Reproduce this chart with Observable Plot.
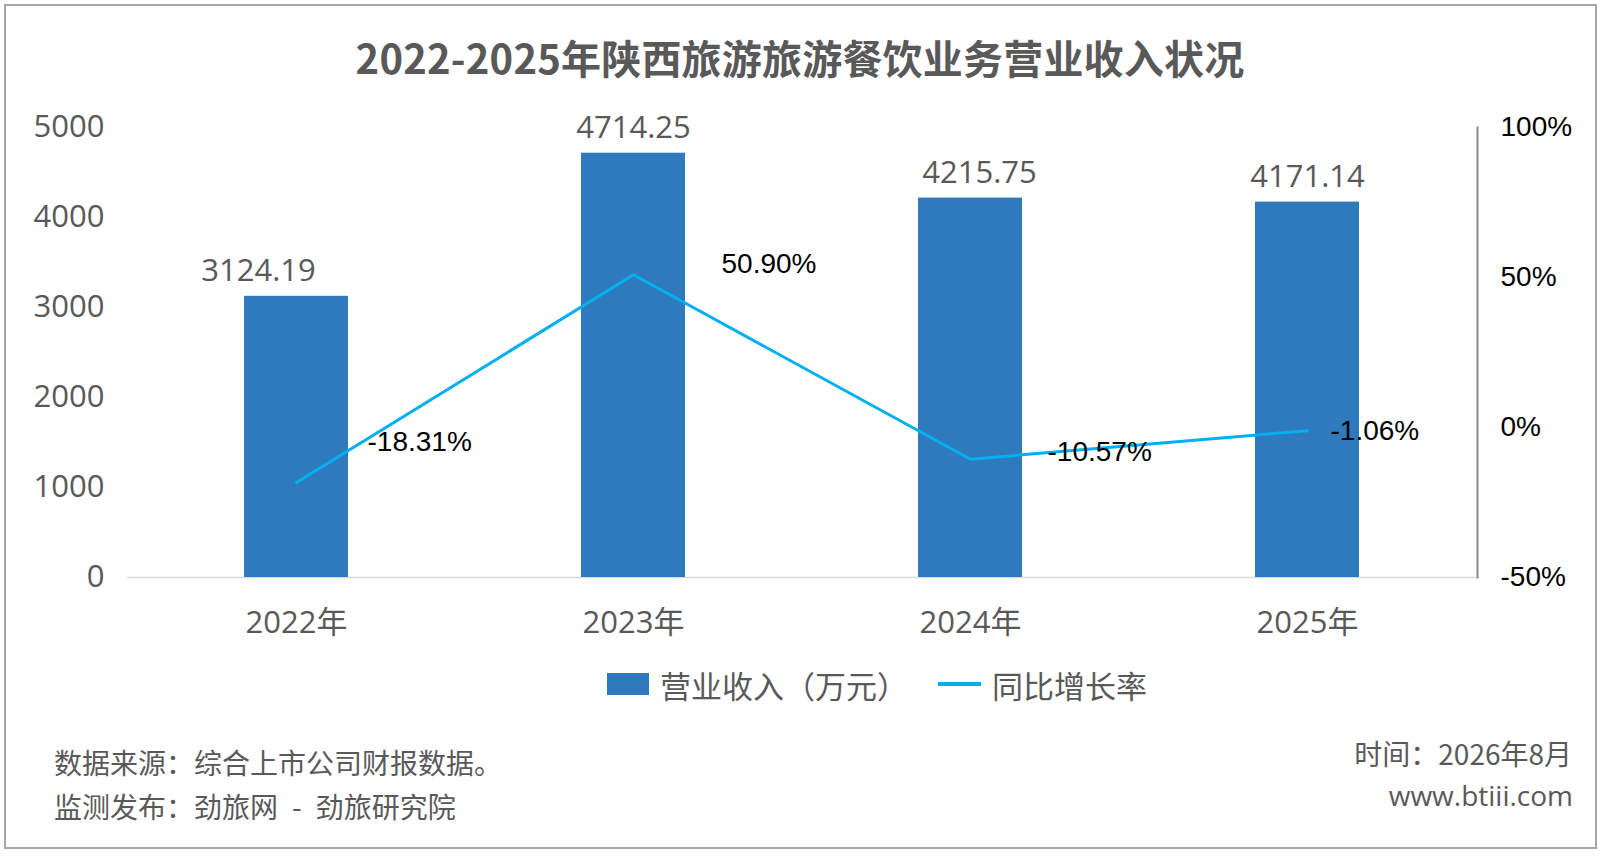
<!DOCTYPE html>
<html>
<head>
<meta charset="utf-8">
<script src="https://cdn.jsdelivr.net/npm/d3@7"></script>
<script src="https://cdn.jsdelivr.net/npm/@observablehq/plot@0.6"></script>
<style>
  html, body { margin: 0; padding: 0; background: #fff; }
  #page { position: relative; width: 1600px; height: 856px; overflow: hidden; background: #fff; }
  #border { position: absolute; left: 4px; top: 4px; width: 1589px; height: 841px; border: 2px solid #a6a6a6; }
  .t { position: absolute; white-space: nowrap; color: #595959; font-family: "Open Sans", "Noto Sans CJK SC", sans-serif; }
  #title { left: 0; width: 1600px; text-align: center; top: 30px; font-size: 40px; font-weight: bold; line-height: 54px; font-family: "Noto Sans CJK SC", sans-serif; letter-spacing: 0.2px; }
  #chart { position: absolute; left: 0; top: 100px; }
  #legend { position: absolute; left: 607px; top: 664px; height: 40px; display: flex; align-items: center; font-size: 31px; color: #595959; font-family: "Noto Sans CJK SC", sans-serif; }
  .sw-bar { width: 42px; height: 22px; background: #2E7ABD; margin-right: 11px; }
  .sw-line { width: 43px; height: 4px; background: #00B0F0; margin-left: 30px; margin-right: 11px; }
  .foot { font-size: 28px; line-height: 34px; font-family: "Noto Sans CJK SC", sans-serif; }
</style>
</head>
<body>
<div id="page">
  <div id="border"></div>
  <div id="title" class="t"></div>
  <div id="chart"></div>
  <div id="legend"></div>
  <div id="f1" class="t foot" style="left:54px; top:745px;"></div>
  <div id="f2" class="t foot" style="left:54px; top:789px;"></div>
  <div id="f3" class="t foot" style="right:28px; top:736px;"></div>
  <div id="f4" class="t foot" style="right:27px; top:778px; font-family:'Open Sans','Noto Sans CJK SC',sans-serif;"></div>
</div>
<script>
// ---- data ----
const years = ["2022年", "2023年", "2024年", "2025年"];
const revenue = [3124.19, 4714.25, 4215.75, 4171.14];     // 营业收入（万元）
const growth = [-18.31, 50.90, -10.57, -1.06];            // 同比增长率 (%)
const leftTicks = [0, 1000, 2000, 3000, 4000, 5000];
const rightTicks = [-50, 0, 50, 100];
const titleText = "2022-2025年陕西旅游旅游餐饮业务营业收入状况";
const seriesNames = ["营业收入（万元）", "同比增长率"];
const footLeft = ["数据来源：综合上市公司财报数据。", "监测发布：劲旅网 - 劲旅研究院"];
const footRight = ["时间：2026年8月", "www.btiii.com"];

// ---- layout (not data) ----
const barLabelDx = [-38, 0, 9, 0];
const lineLabelOffset = [[71, -40], [88, -11], [77, -7], [23, 0]];

const rows = years.map((y, i) => ({year: y, revenue: revenue[i], growth: growth[i]}));

// secondary axis mapping: -50%..100% onto 0..5000
const Y_MAX = 5000, P_MIN = -50, P_MAX = 100;
const toY = p => (p - P_MIN) / (P_MAX - P_MIN) * Y_MAX;
const fromY = v => v / Y_MAX * (P_MAX - P_MIN) + P_MIN;

const grayFont = '"Open Sans", "Noto Sans CJK SC", sans-serif';
const blackFont = '"Liberation Sans", "Noto Sans CJK SC", sans-serif';

const marks = [
  Plot.ruleY([0], {stroke: "#d9d9d9", strokeWidth: 1.5}),
  Plot.barY(rows, {x: "year", y: "revenue", fill: "#2E7ABD"}),
  Plot.frame({anchor: "right", stroke: "#8c8c8c", strokeWidth: 2}),
  Plot.axisY({anchor: "left", ticks: leftTicks, tickSize: 0, tickPadding: 23, fontSize: 31,
              color: "#595959", fill: "#595959", fontFamily: grayFont, label: null, tickFormat: d => String(d)}),
  Plot.axisY({anchor: "right", ticks: rightTicks.map(toY), tickSize: 0, tickPadding: 23, fontSize: 28,
              color: "#000", fill: "#000", fontFamily: blackFont, label: null,
              tickFormat: v => Math.round(fromY(v)) + "%"}),
  Plot.axisX({tickSize: 0, tickPadding: 33, fontSize: 31, color: "#595959", fill: "#595959",
              fontFamily: grayFont, label: null}),
  Plot.lineY(rows, {x: "year", y: d => toY(d.growth), stroke: "#00B0F0", strokeWidth: 3})
];

rows.forEach((d, i) => {
  marks.push(Plot.text([d], {
    x: "year", y: "revenue", text: r => r.revenue.toFixed(2),
    dx: barLabelDx[i], dy: -25, lineAnchor: "middle",
    fontSize: 31, fill: "#595959", fontFamily: grayFont
  }));
  marks.push(Plot.text([d], {
    x: "year", y: r => toY(r.growth), text: r => r.growth.toFixed(2) + "%",
    dx: lineLabelOffset[i][0], dy: lineLabelOffset[i][1], textAnchor: "start", lineAnchor: "middle",
    fontSize: 28, fill: "#000", fontFamily: blackFont
  }));
});

const chart = Plot.plot({
  width: 1600,
  height: 550,
  marginLeft: 127,
  marginRight: 123,
  marginTop: 27,
  marginBottom: 73,
  style: {background: "transparent", fontFamily: grayFont, overflow: "visible"},
  x: {domain: years, paddingInner: 0.69, paddingOuter: 0.345},
  y: {domain: [0, Y_MAX]},
  marks
});
document.getElementById("chart").appendChild(chart);

document.getElementById("title").textContent = titleText;
const lg = document.getElementById("legend");
lg.innerHTML = `<div class="sw-bar"></div><span>${seriesNames[0]}</span><div class="sw-line"></div><span>${seriesNames[1]}</span>`;
document.getElementById("f1").textContent = footLeft[0];
document.getElementById("f2").textContent = footLeft[1].replace(" - ", "\u2002-\u2002");
document.getElementById("f3").textContent = footRight[0];
document.getElementById("f4").textContent = footRight[1];
</script>
</body>
</html>
